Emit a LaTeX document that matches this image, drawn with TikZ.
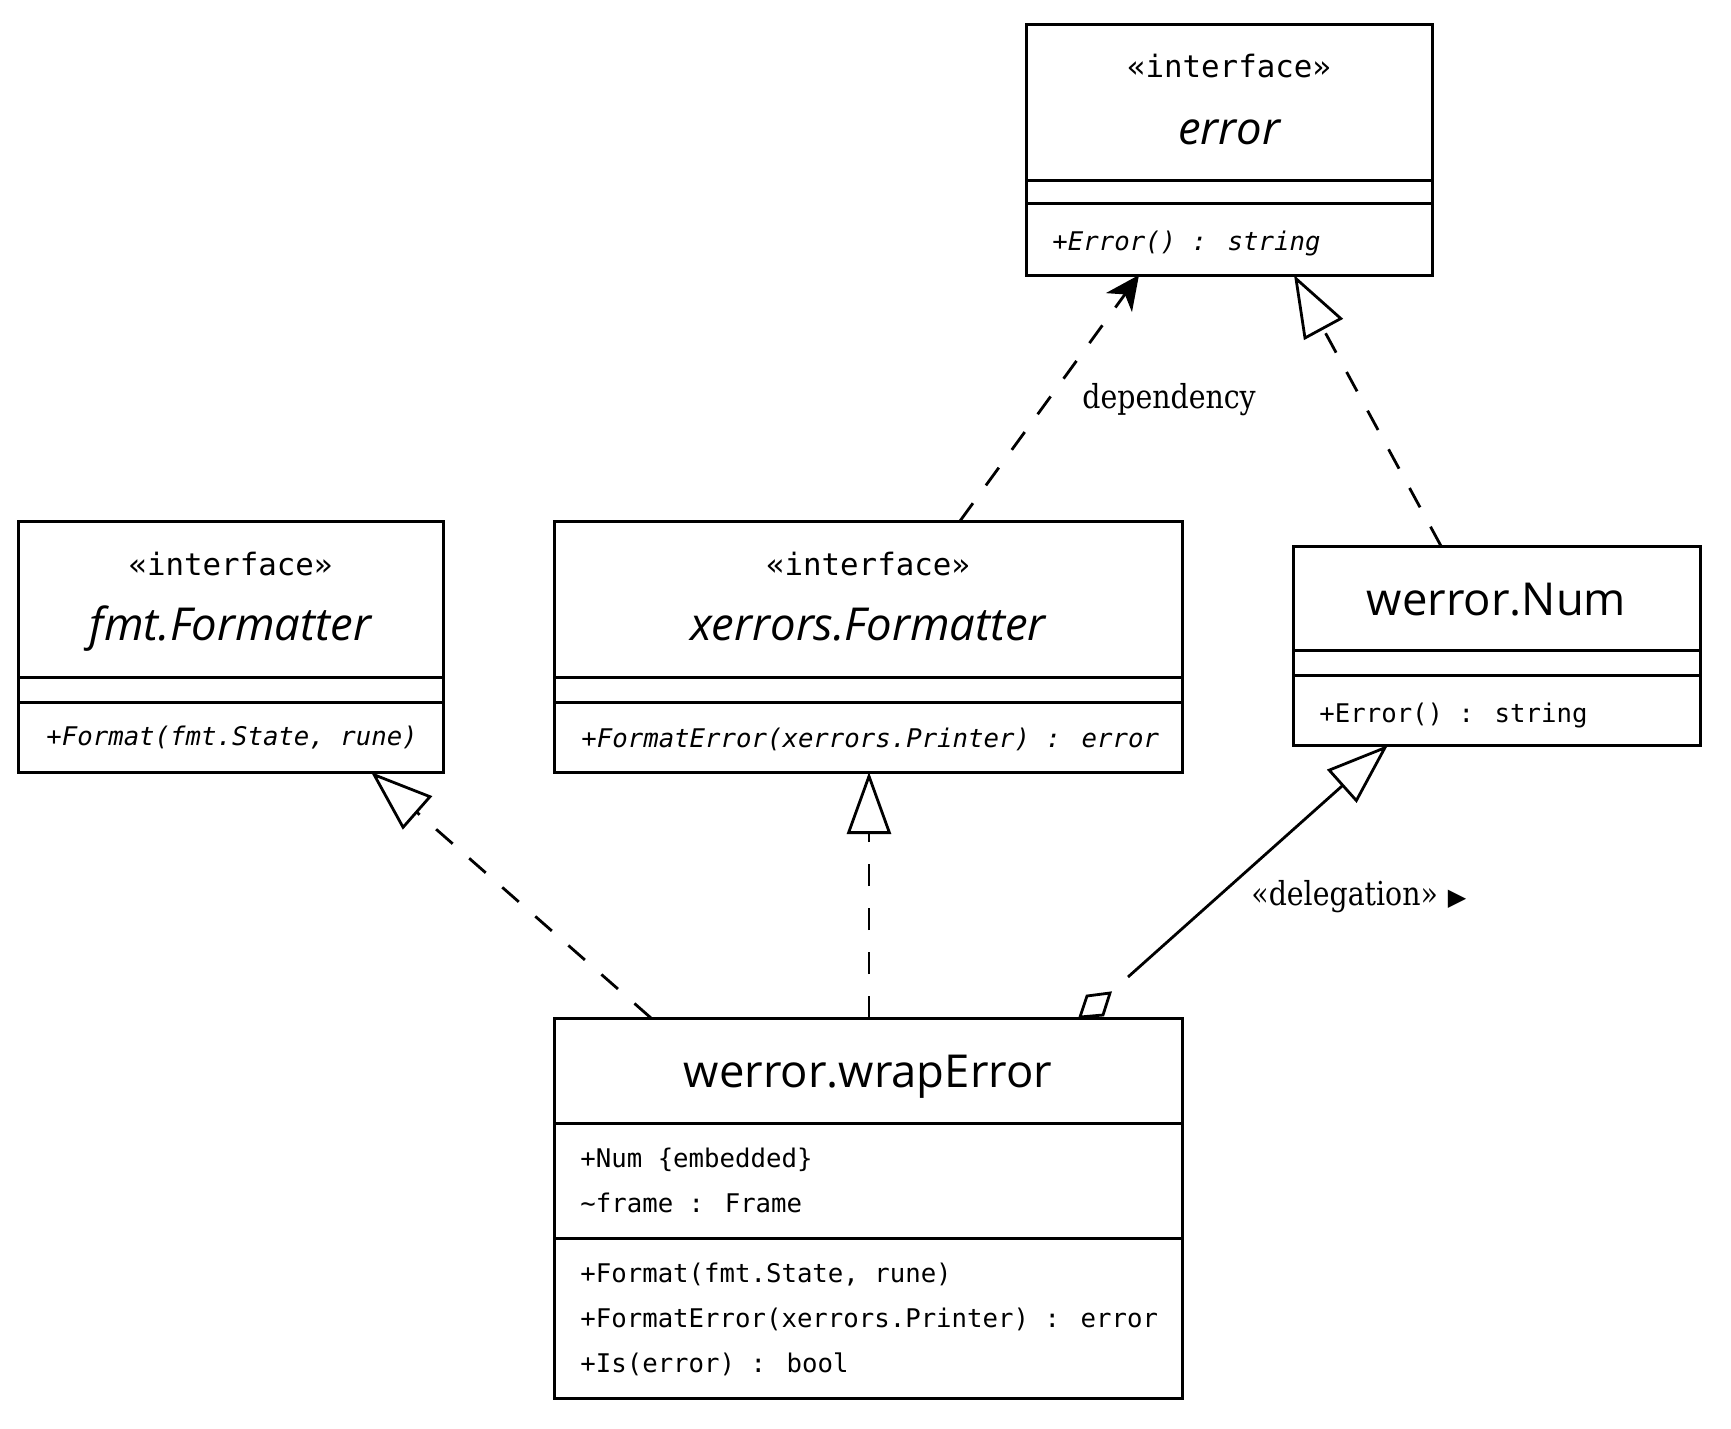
\documentclass[tikz,border=0pt]{standalone}
\usepackage{fontspec}
\setmainfont{DejaVu Serif}[FakeStretch=0.86]
\newfontfamily\titlefont{Open Sans}
\newfontfamily\monofont{DejaVu Sans Mono}
\newfontfamily\symfont{DejaVu Sans}
\usetikzlibrary{arrows.meta,calc}
\tikzset{
  box/.style={draw, line width=1.5pt, inner sep=0pt, outer sep=0pt, anchor=north west},
  sepline/.style={line width=1.5pt},
  stereo/.style={inner sep=0pt, anchor=base, font=\monofont\fontsize{15.4}{18}\selectfont},
  ctitle/.style={inner sep=0pt, anchor=base, font=\titlefont\fontsize{22.7}{26}\selectfont},
  member/.style={inner sep=0pt, anchor=base west, font=\monofont\fontsize{12.85}{15}\selectfont},
  lbl/.style={inner sep=0pt, anchor=base west, font=\fontsize{16.5}{19}\selectfont},
  conn/.style={line width=1.4pt},
  dashline/.style={conn, dash pattern=on 11pt off 11pt},
  realize/.style={dashline, -{Triangle[open, length=31pt, width=22pt]}},
  depend/.style={dashline, -{Stealth[length=17pt, width=16pt, inset=5pt]}},
  inherit/.style={conn, -{Triangle[open, length=31pt, width=22pt]}},
}
\begin{document}
\begin{tikzpicture}[x=0.5pt, y=-0.5pt]
\fill[white] (0,0) rectangle (1731,1429);
\useasboundingbox (0,0) rectangle (1731,1429);

% error
\node[box, minimum width=203pt, minimum height=125pt] (err) at (1026,25) {};
\draw[sepline] (1026,181) -- (1432,181);
\draw[sepline] (1026,204) -- (1432,204);
\node[stereo] (errS) at (1229,78) {«interface»};
\node[ctitle] (errT) at (1229,145) {\itshape error};
\node[member] (errM) at (1052,250) {\itshape +Error() : string};

% fmt.Formatter
\node[box, minimum width=212.5pt, minimum height=125.5pt] (fmt) at (18,521) {};
\draw[sepline] (18,677) -- (443,677);
\draw[sepline] (18,702) -- (443,702);
\node[stereo] (fmtS) at (230.5,575) {«interface»};
\node[ctitle] (fmtT) at (230.5,640) {\itshape fmt.Formatter};
\node[member] (fmtM) at (46,745) {\itshape +Format(fmt.State, rune)};

% xerrors.Formatter
\node[box, minimum width=314pt, minimum height=125.5pt] (xerr) at (554,521) {};
\draw[sepline] (554,677) -- (1182,677);
\draw[sepline] (554,702) -- (1182,702);
\node[stereo] (xerrS) at (868,575) {«interface»};
\node[ctitle] (xerrT) at (868,640) {\itshape xerrors.Formatter};
\node[member] (xerrM) at (581,747) {\itshape +FormatError(xerrors.Printer) : error};

% werror.Num
\node[box, minimum width=203.5pt, minimum height=99.5pt] (num) at (1293,546) {};
\draw[sepline] (1293,650) -- (1700,650);
\draw[sepline] (1293,675) -- (1700,675);
\node[ctitle] (numT) at (1496.5,615) {werror.Num};
\node[member] (numM) at (1319,722) {+Error() : string};

% werror.wrapError
\node[box, minimum width=314pt, minimum height=190pt] (wrap) at (554,1018) {};
\draw[sepline] (554,1123) -- (1182,1123);
\draw[sepline] (554,1238) -- (1182,1238);
\node[ctitle] (wrapT) at (868,1087) {werror.wrapError};
\node[member] (wrapA1) at (580,1167) {+Num \{embedded\}};
\node[member] (wrapA2) at (580,1212) {\textasciitilde frame : Frame};
\node[member] (wrapM1) at (580,1282) {+Format(fmt.State, rune)};
\node[member] (wrapM2) at (580,1327) {+FormatError(xerrors.Printer) : error};
\node[member] (wrapM3) at (580,1372) {+Is(error) : bool};

% connectors
\draw[depend] ($(xerr.north west)+(406,0)$) -- ($(err.south west)+(113,0)$);
\draw[realize] ($(num.north west)+(148,0)$) -- ($(err.south west)+(268,0)$);
\draw[realize] ($(wrap.north west)+(97,0)$) -- ($(fmt.south west)+(353,0)$);
\draw[realize] ($(wrap.north west)+(315,0)$) -- ($(xerr.south west)+(315,0)$);
\coordinate (dgs) at (1128,977);
\draw[inherit] (dgs) -- ($(num.south west)+(95,0)$);
\draw[conn, line join=miter] (1080,1017) -- (1103,1015) -- (1110,993) -- (1087,996) -- cycle;

% labels
\node[lbl] (depL) at (1082,408) {dependency};
\node[lbl] (delL) at (1251,905) {«delegation»\hspace{5pt}{\symfont\fontsize{12}{14}\selectfont ▶}};
\end{tikzpicture}
\end{document}
